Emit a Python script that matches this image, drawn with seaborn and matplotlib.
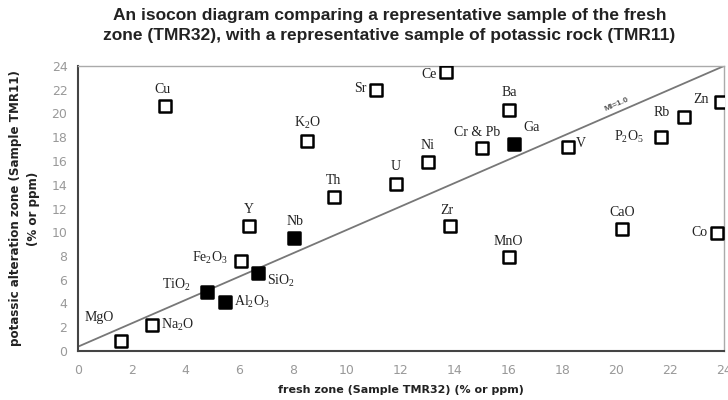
import numpy as np
import pandas as pd
import matplotlib
matplotlib.use("Agg")
import matplotlib.pyplot as plt
import seaborn as sns

# element / oxide values
names = ["MgO", "Na$_2$O", "TiO$_2$", "Al$_2$O$_3$", "SiO$_2$", "Fe$_2$O$_3$", "Y", "Nb",
         "Th", "K$_2$O", "U", "Ni", "Sr", "Ce", "Cr & Pb", "Ba", "Ga", "V",
         "P$_2$O$_5$", "Rb", "Zn", "Zr", "MnO", "CaO", "Co", "Cu"]
fresh = [1.6, 2.74, 4.81, 5.47, 6.68, 6.06, 6.34, 8.02,
         9.5, 8.5, 11.83, 13.0, 11.07, 13.67, 15.0, 16.0, 16.2, 18.2,
         21.65, 22.5, 23.9, 13.83, 16.0, 20.2, 23.75, 3.24]
altered = [0.85, 2.2, 5.0, 4.15, 6.6, 7.6, 10.5, 9.5,
           13.0, 17.7, 14.1, 15.9, 22.0, 23.5, 17.1, 20.3, 17.4, 17.2,
           18.0, 19.7, 21.0, 10.5, 7.95, 10.25, 9.9, 20.6]
immobile = ["TiO$_2$", "Al$_2$O$_3$", "SiO$_2$", "Nb", "Ga"]

isocon_x = [0, 24]
isocon_y = [0.36, 24]

df = pd.DataFrame({"name": names, "fresh": fresh, "altered": altered})
df["kind"] = np.where(df["name"].isin(immobile), "filled", "open")

# label offsets in pixels (dx, dy, ha)
offsets = {
    "MgO": (-22, 23, "center"), "Na$_2$O": (9, 0, "left"), "TiO$_2$": (-31, 7, "center"),
    "Al$_2$O$_3$": (9, 0, "left"), "SiO$_2$": (9, -8, "left"), "Fe$_2$O$_3$": (-31, 3, "center"),
    "Y": (0, 17, "center"), "Nb": (1, 17, "center"), "Th": (0, 16, "center"),
    "K$_2$O": (1, 18, "center"), "U": (-1, 17, "center"), "Ni": (0, 17, "center"),
    "Sr": (-9, 1, "right"), "Ce": (-9, -3, "right"), "Cr & Pb": (-5, 15, "center"),
    "Ba": (1, 17, "center"), "Ga": (18, 17, "center"), "V": (8, 3, "left"),
    "P$_2$O$_5$": (-32, 0, "center"), "Rb": (-22, 5, "center"), "Zn": (-20, 2, "center"),
    "Zr": (-3, 16, "center"), "MnO": (0, 15, "center"), "CaO": (0, 17, "center"),
    "Co": (-10, 1, "right"), "Cu": (-3, 17, "center"),
}

sns.set_style("white")
plt.rcParams["font.family"] = ["DejaVu Sans"]
plt.rcParams["mathtext.fontset"] = "custom"
plt.rcParams["mathtext.rm"] = "Liberation Serif"
plt.rcParams["mathtext.it"] = "Liberation Serif:italic"

fig = plt.figure(figsize=(7.28, 4.0), dpi=100)
ax = fig.add_axes([0.107, 0.1225, 0.8875, 0.7125])

sns.lineplot(x=isocon_x, y=isocon_y, ax=ax, color="#777777", linewidth=1.3, zorder=1)

sns.scatterplot(data=df[df["kind"] == "open"], x="fresh", y="altered", ax=ax,
                marker="s", s=75, facecolor="white", edgecolor="black", linewidth=1.8, zorder=3)
sns.scatterplot(data=df[df["kind"] == "filled"], x="fresh", y="altered", ax=ax,
                marker="s", s=75, color="black", edgecolor="black", linewidth=1.8, zorder=3)

for n, xv, yv in zip(names, fresh, altered):
    dx, dy, ha = offsets[n]
    ax.annotate(n, (xv, yv), xytext=(dx, dy), textcoords="offset pixels",
                ha=ha, va="center", fontsize=10, family="Liberation Serif", color="#222222")

ax.text(20.0, 20.8, "MI=1.0", rotation=23.5, fontsize=6, fontweight="bold",
        color="#555555", ha="center", va="center", family="Liberation Sans")

ax.set_xlim(0, 24)
ax.set_ylim(0, 24)
ax.set_xticks(range(0, 25, 2))
ax.set_yticks(range(0, 25, 2))
ax.tick_params(axis="x", direction="inout", length=6, width=1, colors="#555555",
               labelcolor="#999999", labelsize=9, pad=6)
ax.tick_params(axis="y", direction="out", length=4, width=1, colors="#555555",
               labelcolor="#999999", labelsize=9)
for side in ["left", "bottom"]:
    ax.spines[side].set_color("#444444")
    ax.spines[side].set_linewidth(1.5)
for side in ["top", "right"]:
    ax.spines[side].set_color("#aaaaaa")
    ax.spines[side].set_linewidth(1.0)

ax.set_xlabel("fresh zone (Sample TMR32) (% or ppm)", fontsize=8, fontweight="bold",
              color="#222222", labelpad=6)
ax.set_ylabel("potassic alteration zone (Sample TMR11)\n(% or ppm)", fontsize=8.6,
              fontweight="bold", color="#222222", labelpad=8, linespacing=1.5)

fig.suptitle("An isocon diagram comparing a representative sample of the fresh\n"
             "zone (TMR32), with a representative sample of potassic rock (TMR11)",
             x=0.535, y=0.98, fontsize=12.5, fontweight="bold", color="#222222",
             linespacing=1.45, family="Liberation Sans")

fig.savefig("out.png", dpi=100)
